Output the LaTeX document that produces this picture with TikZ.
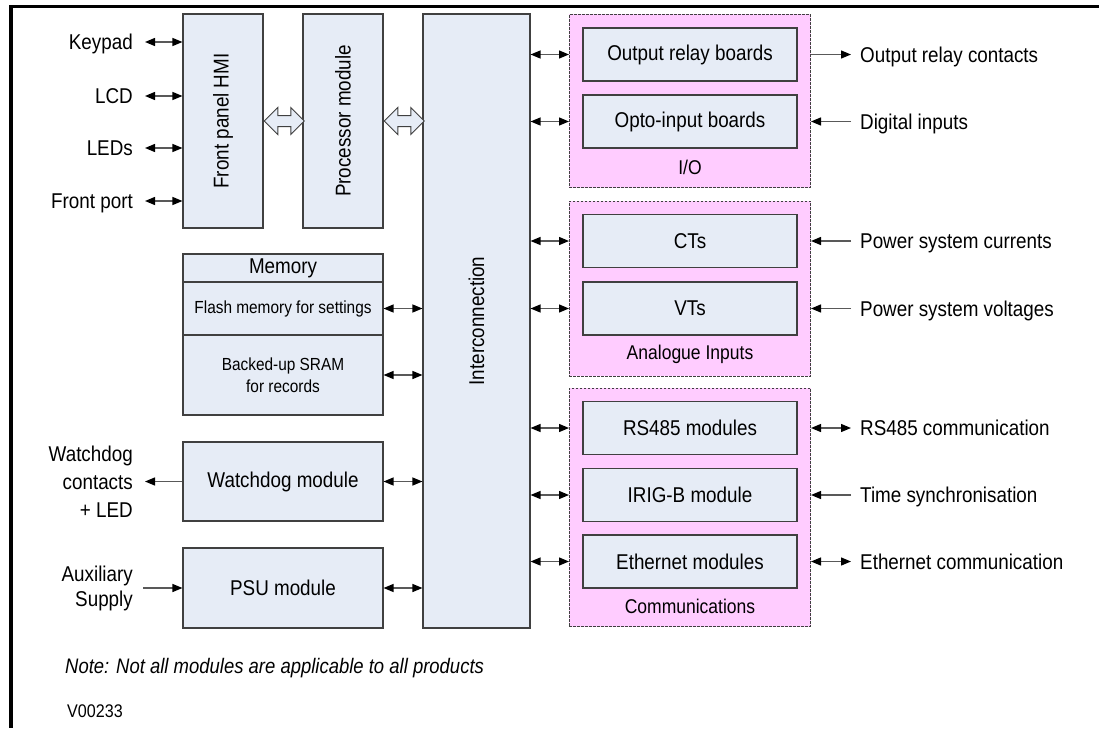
\documentclass[tikz,border=0pt]{standalone}
\usepackage{fontspec}
\setmainfont[FakeStretch=0.88]{Liberation Sans}
\usetikzlibrary{arrows.meta,positioning,fit,backgrounds,shapes.arrows}

\definecolor{modblue}{RGB}{230,236,246}
\definecolor{grppink}{RGB}{255,204,255}
\definecolor{edgegray}{RGB}{64,64,64}

\begin{document}
\begin{tikzpicture}[
  x=1pt, y=-1pt,
  font=\fontsize{21.4}{28}\selectfont,
  >={Triangle[length=10pt, width=8pt, color=black]},
  module/.style={rectangle, draw=edgegray, fill=modblue, line width=1.1pt,
                 align=center, inner sep=0pt, minimum width=214pt, minimum height=53pt},
  group/.style={rectangle, draw=edgegray, fill=grppink, line width=0.9pt,
                dash pattern=on 2.5pt off 1.5pt, inner sep=13pt},
  grplbl/.style={inner sep=0pt, font=\fontsize{19.9}{22}\selectfont},
  ext/.style={inner sep=0pt, text height=15.3pt, text depth=0pt},
  extm/.style={inner sep=0pt, align=right},
  small/.style={font=\fontsize{17.5}{22}\selectfont},
  link/.style={<->, draw=black!65, line width=1.3pt},
  feed/.style={->, draw=black!65, line width=1.3pt},
  bus/.style={double arrow, draw=edgegray, fill=modblue, line width=1pt,
              minimum height=40pt, minimum width=26pt, double arrow head extend=8pt,
              inner xsep=0pt, inner ysep=5pt, anchor=west},
]
\useasboundingbox (0,0) rectangle (1099,728);

% --- frame ---
\draw[line width=3.5pt] (1099,6.5) -- (11,6.5) -- (11,728);

% --- core modules ---
\node[module, minimum width=80pt, minimum height=214pt] (hmi) at (223,121) {\rotatebox{90}{Front panel HMI}};
\node[module, minimum width=80pt, minimum height=214pt] (proc) at (343,121) {\rotatebox{90}{Processor module}};
\node[module, minimum width=107pt, minimum height=614pt] (ic) at (476.5,321) {\rotatebox{90}{Interconnection}};

\node[bus] (bus1) at (hmi.east) {};
\node[bus] (bus2) at (proc.east) {};

\node[module, minimum width=200pt, minimum height=28pt] (memhead) at (283,268) {Memory};
\node[module, small, minimum width=200pt, minimum height=53pt] (flash) at (283,308.5) {Flash memory for settings};
\node[module, small, minimum width=200pt, minimum height=80pt] (sram) at (283,375) {Backed-up SRAM\\for records};

\node[module, minimum width=200pt, minimum height=79pt] (wdog) at (283,481.5) {Watchdog module};
\node[module, minimum width=200pt, minimum height=80pt] (psu) at (283,588) {PSU module};

% --- boards ---
\node[module] (outrel) at (690,54.5)  {Output relay boards};
\node[module] (opto)   at (690,121.5) {Opto-input boards};
\node[grplbl] (iolbl)  at (690,167)   {I/O};

\node[module] (cts)    at (690,241)   {CTs};
\node[module] (vts)    at (690,308.5) {VTs};
\node[grplbl] (analbl) at (690,354)   {Analogue Inputs};

\node[module] (rs485)  at (690,428)   {RS485 modules};
\node[module] (irig)   at (690,495)   {IRIG-B module};
\node[module] (eth)    at (690,561.5) {Ethernet modules};
\node[grplbl] (comlbl) at (690,606)   {Communications};

\begin{scope}[on background layer]
  \node[group, fit=(outrel)(opto)(iolbl)] (io) {};
  \node[group, fit=(cts)(vts)(analbl)] (ana) {};
  \node[group, fit=(rs485)(irig)(eth)(comlbl)] (comm) {};
\end{scope}

% --- outside signals ---
\node[ext, anchor=east] (keypad) at (133,42)  {Keypad};
\node[ext, anchor=east] (lcd)    at (133,96)  {LCD};
\node[ext, anchor=east] (leds)   at (133,148) {LEDs};
\node[ext, anchor=east] (fport)  at (133,201) {Front port};
\node[extm, anchor=east] (wdlbl) at (133,481.5) {Watchdog\\contacts\\+ LED};
\node[extm, anchor=east, font=\fontsize{21.4}{25}\selectfont] (auxlbl) at (133,588) {Auxiliary\\Supply};

\node[ext, anchor=west] (relcon) at (860,54.5)  {Output relay contacts};
\node[ext, anchor=west] (digin)  at (860,121.5) {Digital inputs};
\node[ext, anchor=west] (pscur)  at (860,241)   {Power system currents};
\node[ext, anchor=west] (psvol)  at (860,308.5) {Power system voltages};
\node[ext, anchor=west] (rscom)  at (860,428)   {RS485 communication};
\node[ext, anchor=west] (tsync)  at (860,495)   {Time synchronisation};
\node[ext, anchor=west] (ethcom) at (860,561.5) {Ethernet communication};

% --- connections ---
\draw[link, shorten <=12pt] (keypad) -- (keypad -| hmi.west);
\draw[link, shorten <=12pt] (lcd) -- (lcd -| hmi.west);
\draw[link, shorten <=12pt] (leds) -- (leds -| hmi.west);
\draw[link, shorten <=12pt] (fport) -- (fport -| hmi.west);
\draw[feed, shorten >=12pt] (wdog) -- (wdlbl);
\draw[feed, shorten <=10pt] (auxlbl) -- (psu);

\draw[link] (flash) -- (flash -| ic.west);
\draw[link] (sram) -- (sram -| ic.west);
\draw[link] (wdog) -- (wdog -| ic.west);
\draw[link] (psu) -- (psu -| ic.west);

\draw[link] (outrel -| ic.east) -- (outrel -| io.west);
\draw[link] (opto -| ic.east) -- (opto -| io.west);
\draw[link] (cts -| ic.east) -- (cts -| ana.west);
\draw[link] (vts -| ic.east) -- (vts -| ana.west);
\draw[link] (rs485 -| ic.east) -- (rs485 -| comm.west);
\draw[link] (irig -| ic.east) -- (irig -| comm.west);
\draw[link] (eth -| ic.east) -- (eth -| comm.west);

\draw[feed, shorten >=9pt] (relcon -| io.east) -- (relcon);
\draw[feed, shorten <=9pt] (digin) -- (digin -| io.east);
\draw[feed, shorten <=9pt] (pscur) -- (pscur -| ana.east);
\draw[feed, shorten <=9pt] (psvol) -- (psvol -| ana.east);
\draw[link, shorten >=9pt] (rscom -| comm.east) -- (rscom);
\draw[feed, shorten <=9pt] (tsync) -- (tsync -| comm.east);
\draw[link, shorten >=9pt] (ethcom -| comm.east) -- (ethcom);

% --- notes ---
\node[anchor=west, inner sep=0pt, font=\itshape\fontsize{21}{22}\selectfont] (note) at (65,668) {Note: Not all modules are applicable to all products};
\node[anchor=west, inner sep=0pt, font=\fontsize{18.3}{20}\selectfont] (ver) at (67,711) {V00233};

\end{tikzpicture}
\end{document}
